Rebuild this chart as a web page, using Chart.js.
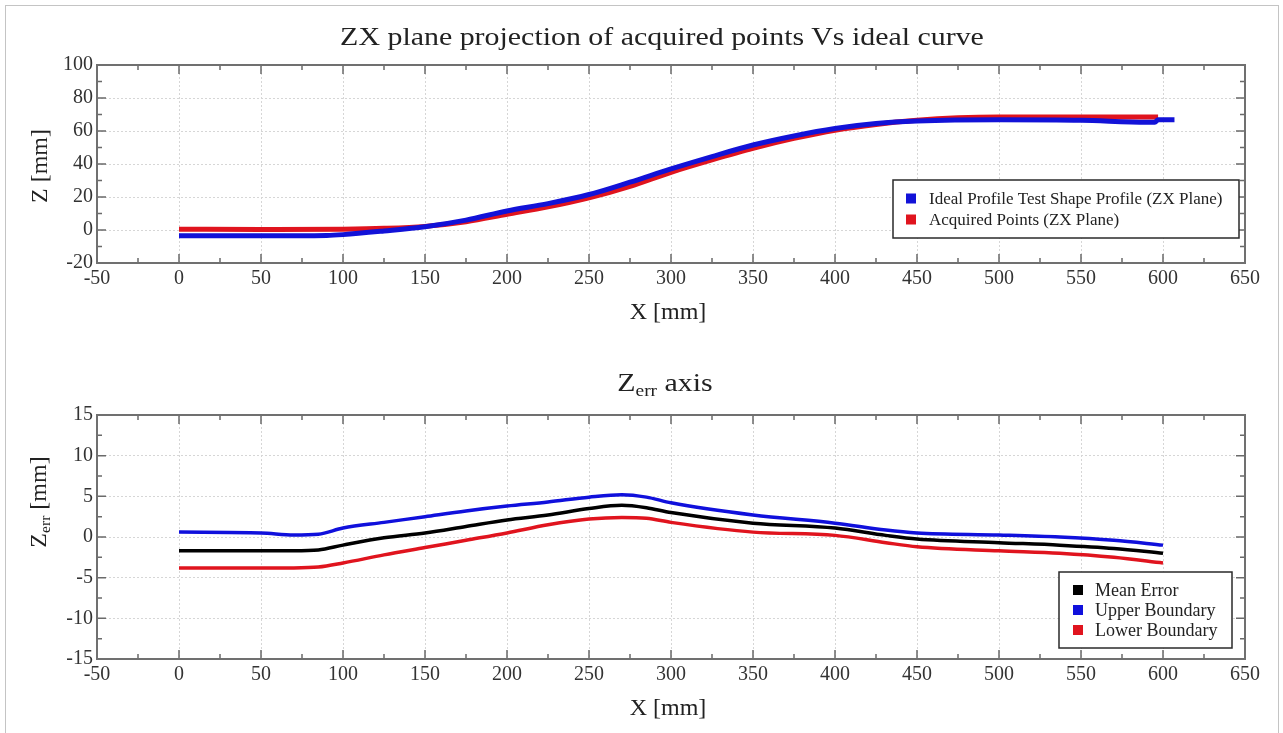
<!DOCTYPE html>
<html>
<head>
<meta charset="utf-8">
<title>ZX plane projection</title>
<script src="https://cdn.jsdelivr.net/npm/chart.js@4.4.1/dist/chart.umd.min.js"></script>
<style>
  body { margin: 0; background: #fff; font-family: "Liberation Serif", serif; color: #222; }
  #frame { position: absolute; left: 5px; top: 5px; width: 1272px; height: 740px; border: 1px solid #c4c4c4; }
  .wrap { position: absolute; left: 0; width: 1283px; }
  .txt { position: absolute; white-space: nowrap; line-height: 1; transform: translate(-50%, -50%); }
  .wide { transform: translate(-50%, -50%) scaleX(1.15); }
  .rot { transform: translate(-50%, -50%) rotate(-90deg); }
  sub { font-size: 65%; vertical-align: -0.25em; }
</style>
</head>
<body>
<div id="frame"></div>
<div class="wrap" style="top:0;height:340px"><canvas id="zx-chart"></canvas></div>
<div class="wrap" style="top:350px;height:383px"><canvas id="err-chart"></canvas></div>

<div class="txt wide" style="left:662px;top:37px;font-size:26px">ZX plane projection of acquired points Vs ideal curve</div>
<div class="txt rot" style="left:39px;top:166px;font-size:24px">Z [mm]</div>
<div class="txt" style="left:668px;top:311px;font-size:24px">X [mm]</div>
<div class="txt wide" style="left:665px;top:385px;font-size:26px">Z<sub>err</sub> axis</div>
<div class="txt rot" style="left:39px;top:502px;font-size:24px">Z<sub>err</sub> [mm]</div>
<div class="txt" style="left:668px;top:707px;font-size:24px">X [mm]</div>

<script>
// Top chart: ideal profile vs acquired points (ZX plane)
var idealX = [0, 50, 90, 100, 125, 150, 175, 200, 225, 250, 275, 300, 325, 350, 375, 400, 425, 450, 500, 550, 590, 595, 597, 607];
var idealZ = [-3.5, -3.5, -3.3, -2.8, -0.6, 2, 6, 11.5, 16, 21.5, 29, 37, 44.5, 51.5, 57, 61.5, 64.5, 66, 66.8, 66.5, 65.3, 65.3, 66.8, 66.8];

var acquiredX = [0, 50, 100, 125, 150, 175, 200, 225, 250, 275, 300, 325, 350, 375, 400, 425, 450, 475, 500, 550, 597];
var acquiredZ = [0.5, 0.3, 0.5, 1, 2.2, 5, 9.5, 14, 19.5, 26.5, 35, 42.5, 49.5, 55.5, 60.5, 64, 66.5, 68, 68.5, 68.5, 68.5];

// Bottom chart: Z error with boundaries
var errX = [0, 50, 70, 85, 100, 125, 150, 175, 200, 225, 250, 270, 285, 300, 350, 400, 431, 450, 500, 537, 570, 600];
var meanErr = [-1.7, -1.7, -1.7, -1.6, -1.0, -0.1, 0.5, 1.3, 2.1, 2.7, 3.5, 3.9, 3.6, 3.0, 1.7, 1.1, 0.2, -0.25, -0.7, -1.0, -1.4, -2.0];
var upperErr = [0.6, 0.5, 0.25, 0.35, 1.1, 1.8, 2.5, 3.2, 3.8, 4.3, 4.9, 5.2, 4.9, 4.2, 2.7, 1.7, 0.85, 0.5, 0.25, 0.0, -0.4, -1.0];
var lowerErr = [-3.8, -3.8, -3.8, -3.7, -3.2, -2.2, -1.3, -0.4, 0.5, 1.5, 2.2, 2.4, 2.3, 1.8, 0.6, 0.2, -0.7, -1.2, -1.7, -2.0, -2.5, -3.2];

var xTicks = { min: -50, max: 650, step: 50 };
var zTicks = { min: -20, max: 100, step: 20 };
var errTicks = { min: -15, max: 15, step: 5 };

function toPoints(xs, ys) {
  var pts = [];
  for (var i = 0; i < xs.length; i++) pts.push({ x: xs[i], y: ys[i] });
  return pts;
}

// Inward tick marks on all four sides plus the dark frame
var frameTicks = {
  id: "frameTicks",
  afterDatasetsDraw: function (chart, args, opts) {
    var ctx = chart.ctx;
    var a = chart.chartArea;
    var xs = chart.scales.x;
    var ys = chart.scales.y;
    ctx.save();
    ctx.strokeStyle = "#6a6a6a";
    ctx.lineWidth = 1.5;
    ctx.beginPath();
    var n = Math.round((xs.max - xs.min) / opts.xMinor);
    for (var i = 0; i <= n; i++) {
      var px = xs.getPixelForValue(xs.min + i * opts.xMinor);
      var len = i % 2 === 0 ? 9 : 5;
      ctx.moveTo(px, a.bottom); ctx.lineTo(px, a.bottom - len);
      ctx.moveTo(px, a.top); ctx.lineTo(px, a.top + len);
    }
    n = Math.round((ys.max - ys.min) / opts.yMinor);
    for (var j = 0; j <= n; j++) {
      var py = ys.getPixelForValue(ys.min + j * opts.yMinor);
      var l2 = j % 2 === 0 ? 9 : 5;
      ctx.moveTo(a.left, py); ctx.lineTo(a.left + l2, py);
      ctx.moveTo(a.right, py); ctx.lineTo(a.right - l2, py);
    }
    ctx.stroke();
    ctx.lineWidth = 2;
    ctx.strokeStyle = "#707070";
    ctx.strokeRect(a.left, a.top, a.right - a.left, a.bottom - a.top);
    ctx.restore();
  }
};

// Boxed legend in the lower right corner of the plot
var boxLegend = {
  id: "boxLegend",
  afterDraw: function (chart, args, opts) {
    var ctx = chart.ctx;
    var a = chart.chartArea;
    var sets = chart.data.datasets;
    var h = opts.pad * 2 + sets.length * opts.rowH;
    var x = a.right - opts.right - opts.width;
    var y = a.bottom - opts.bottom - h;
    ctx.save();
    ctx.fillStyle = "#fff";
    ctx.fillRect(x, y, opts.width, h);
    ctx.strokeStyle = "#2a2a2a";
    ctx.lineWidth = 1.5;
    ctx.strokeRect(x, y, opts.width, h);
    ctx.font = opts.fontSize + 'px "Liberation Serif"';
    ctx.textBaseline = "middle";
    for (var i = 0; i < sets.length; i++) {
      var cy = y + opts.pad + opts.rowH * (i + 0.5);
      ctx.fillStyle = sets[i].borderColor;
      ctx.fillRect(x + opts.boxX, cy - 5, 10, 10);
      ctx.fillStyle = "#222";
      ctx.fillText(sets[i].label, x + opts.textX, cy + 1);
    }
    ctx.restore();
  }
};

function axisOptions(t, fitSize) {
  return {
    type: "linear",
    min: t.min,
    max: t.max,
    ticks: {
      stepSize: t.step,
      autoSkip: false,
      maxRotation: 0,
      padding: 4,
      color: "#333",
      font: { family: "Liberation Serif", size: 20 }
    },
    grid: { color: "#d6d6d6", lineWidth: 1, drawTicks: false },
    border: { display: false, dash: [2, 2] },
    afterFit: fitSize
  };
}

function makeOptions(yTicks, xHeight, top, yMinor, legend) {
  return {
    responsive: true,
    maintainAspectRatio: false,
    animation: false,
    layout: { padding: { left: 0, right: 38, top: top, bottom: 0 } },
    elements: { point: { radius: 0 }, line: { cubicInterpolationMode: "monotone" } },
    plugins: {
      legend: { display: false },
      title: { display: false },
      tooltip: { enabled: false },
      frameTicks: { xMinor: 25, yMinor: yMinor },
      boxLegend: legend
    },
    scales: {
      x: axisOptions(xTicks, function (s) { s.height = xHeight; }),
      y: axisOptions(yTicks, function (s) { s.width = 97; })
    }
  };
}

new Chart(document.getElementById("zx-chart"), {
  type: "line",
  data: {
    datasets: [
      { label: "Ideal Profile Test Shape Profile (ZX Plane)", data: toPoints(idealX, idealZ), borderColor: "#1212d8", borderWidth: 5 },
      { label: "Acquired Points (ZX Plane)", data: toPoints(acquiredX, acquiredZ), borderColor: "#e0141e", borderWidth: 5 }
    ]
  },
  options: makeOptions(zTicks, 77, 65, 10, { width: 346, right: 6, bottom: 25, pad: 8, rowH: 21, boxX: 13, textX: 36, fontSize: 17 }),
  plugins: [frameTicks, boxLegend]
});

new Chart(document.getElementById("err-chart"), {
  type: "line",
  data: {
    datasets: [
      { label: "Mean Error", data: toPoints(errX, meanErr), borderColor: "#000000", borderWidth: 3.5 },
      { label: "Upper Boundary", data: toPoints(errX, upperErr), borderColor: "#1010dc", borderWidth: 3.5 },
      { label: "Lower Boundary", data: toPoints(errX, lowerErr), borderColor: "#e0141e", borderWidth: 3.5 }
    ]
  },
  options: makeOptions(errTicks, 74, 65, 2.5, { width: 173, right: 13, bottom: 11, pad: 8, rowH: 20, boxX: 14, textX: 36, fontSize: 18 }),
  plugins: [frameTicks, boxLegend]
});
</script>
</body>
</html>
